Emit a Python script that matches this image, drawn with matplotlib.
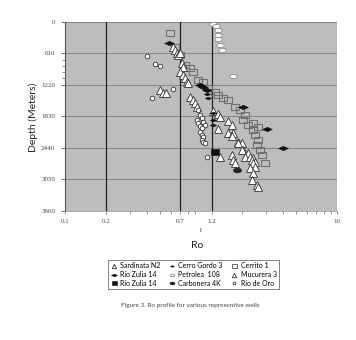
import matplotlib
matplotlib.use("Agg")
import matplotlib.pyplot as plt
import matplotlib.transforms as mtransforms
import numpy as np
from matplotlib.ticker import FixedLocator, LogLocator, NullFormatter

# ---------------- data ----------------
depth_ticks = [0, 610, 1220, 1830, 2440, 3050, 3660]
x_tick_vals = [0.1, 0.2, 0.7, 1.2, 10]
x_tick_labels = ["0.1", "0.2", "0.7", "1.2", "10"]
ro_ref_lines = [0.2, 0.7, 1.2]

sard_ro = [0.626, 0.644, 0.663, 0.681, 0.70, 0.721, 0.741, 0.70, 0.741, 0.763,
           0.785, 0.807, 0.83, 0.878, 0.903, 0.93, 0.50, 0.528, 0.553]
sard_d = [483, 547, 611, 644, 611, 804, 870, 967, 1030, 1094,
          1160, 1191, 1450, 1514, 1577, 1643, 1320, 1372, 1378]

rz_dia_ro = [0.585, 0.983, 1.04, 1.10, 2.05, 3.04, 4.03]
rz_dia_d = [406, 1224, 1268, 1320, 1655, 2074, 2447]

rz_sq_ro = [1.27]
rz_sq_d = [2525]

cg_ro = [1.10, 1.13, 1.23, 1.23, 1.23]
cg_d = [1398, 1481, 1771, 1900, 1997]

petro_ro = [1.22, 1.30, 1.34, 1.34, 1.34, 1.38, 1.42, 1.73]
petro_d = [40, 80, 160, 257, 340, 450, 547, 1050]

carb_ro = [1.83]
carb_d = [2866]

cerr_ro = [0.59, 0.64, 0.70, 0.76, 0.83, 0.88, 0.955, 1.04, 1.13, 1.27, 1.34, 1.46,
           1.59, 1.78, 1.94, 2.11, 2.05, 2.43, 2.23, 2.64, 2.43, 2.49, 2.64, 2.57,
           2.72, 2.79, 2.96]
cerr_d = [224, 483, 644, 837, 901, 967, 1127, 1160, 1287, 1353, 1417, 1481,
          1514, 1643, 1707, 1804, 1900, 1964, 1997, 2030, 2093, 2190, 2287, 2383,
          2480, 2577, 2737]

muc_ro = [1.23, 1.34, 1.38, 1.59, 1.68, 1.34, 1.59, 1.73, 1.68, 1.88, 1.99, 1.88,
          2.05, 1.99, 2.23, 1.68, 2.11, 1.38, 2.29, 2.42, 1.73, 2.36, 2.49, 1.78,
          2.42, 2.49, 2.29, 2.42, 2.36, 2.57, 2.64]
muc_d = [1720, 1784, 1836, 1914, 1997, 2080, 2146, 2157, 2209, 2320, 2351, 2351,
         2480, 2480, 2544, 2577, 2610, 2621, 2610, 2640, 2673, 2673, 2706, 2737,
         2737, 2803, 2834, 2930, 3060, 3157, 3190]

oro_ro = [0.40, 0.46, 0.50, 0.626, 0.436, 0.955, 0.983, 1.01, 1.04, 1.07, 0.93,
          0.955, 0.983, 1.01, 0.983, 1.01, 1.04, 1.01, 1.04, 1.07, 1.10]
oro_d = [657, 823, 856, 1301, 1475, 1707, 1804, 1867, 1933, 1997, 1900,
         1964, 2016, 2061, 2126, 2190, 2223, 2287, 2320, 2351, 2610]

# ---------------- markers ----------------
rect_m = [(-1.6, -1), (1.6, -1), (1.6, 1), (-1.6, 1), (-1.6, -1)]
flat_dia = [(-1, 0), (0, 0.45), (1, 0), (0, -0.45), (-1, 0)]
t = np.linspace(0, 2 * np.pi, 40)
oval_m = list(zip(1.7 * np.cos(t), np.sin(t)))

SANS = ["Lato", "DejaVu Sans"]
SERIF = ["Liberation Serif", "DejaVu Serif"]

fig = plt.figure(figsize=(3.56, 3.40), dpi=100)
fig.patch.set_facecolor("white")
ax = fig.add_axes([65 / 356, 1 - 211 / 340, (337 - 65) / 356, (211 - 21.7) / 340])
ax.set_facecolor("#bdbdbd")
ax.set_xscale("log")
ax.set_xlim(0.1, 10)
ax.set_ylim(3660, 0)

# grid
ax.set_yticks(depth_ticks)
ax.set_yticklabels([str(v) for v in depth_ticks], fontsize=5, family=SERIF, color="#444")
ax.yaxis.set_minor_locator(FixedLocator([732, 854, 976, 1098]))
ax.yaxis.grid(True, which="major", color="#8a8a8a", lw=0.8)
ax.set_axisbelow(True)

ax.set_xticks(x_tick_vals)
ax.set_xticklabels(x_tick_labels, fontsize=5, family=SERIF, color="#444")
ax.xaxis.set_minor_locator(LogLocator(base=10, subs=np.arange(2, 10)))
ax.xaxis.set_minor_formatter(NullFormatter())

ax.tick_params(axis="y", which="major", length=3, width=0.6, color="#555", pad=4)
ax.tick_params(axis="y", which="minor", length=2, width=0.5, color="#555")
ax.tick_params(axis="x", which="major", length=2.5, width=0.5, color="#666", pad=3.5)
ax.tick_params(axis="x", which="minor", length=1.8, width=0.5, color="#666")

for s in ["top", "right"]:
    ax.spines[s].set_visible(False)
ax.spines["left"].set_color("#555")
ax.spines["left"].set_linewidth(0.8)
ax.spines["bottom"].set_color("#999")
ax.spines["bottom"].set_linewidth(0.6)

for v in ro_ref_lines:
    ax.axvline(v, color="#222", lw=0.9, zorder=1.5)

# series
h_sard, = ax.plot(sard_ro, sard_d, ls="none", marker="^", ms=5.3, mfc="white", mec="#333",
                  mew=0.6, label="Sardinata N2", zorder=3)
h_rzd, = ax.plot(rz_dia_ro, rz_dia_d, ls="none", marker=flat_dia, ms=7, mfc="#111", mec="#111",
                 mew=0.4, label="Río Zulia 14", zorder=4)
h_rzs, = ax.plot(rz_sq_ro, rz_sq_d, ls="none", marker=rect_m, ms=6, mfc="#111", mec="#111",
                 mew=0.4, label="Río Zulia 14", zorder=4)
h_cg, = ax.plot(cg_ro, cg_d, ls="none", marker=flat_dia, ms=4.5, mfc="#111", mec="#111",
                mew=0.4, label="Cerro Gordo 3", zorder=4)
h_pet, = ax.plot(petro_ro, petro_d, ls="none", marker=oval_m, ms=5.3, mfc="white", mec="#8a8a8a",
                 mew=0.6, label="Petrolea  108", zorder=3)
h_carb, = ax.plot(carb_ro, carb_d, ls="none", marker=oval_m, ms=6, mfc="#222", mec="#222",
                  mew=0.4, label="Carbonera 4K", zorder=4)
h_cerr, = ax.plot(cerr_ro, cerr_d, ls="none", marker=rect_m, ms=6, mfc="none", mec="#707070",
                  mew=0.8, label="Cerrito 1", zorder=2.5)
h_muc, = ax.plot(muc_ro, muc_d, ls="none", marker="^", ms=5.3, mfc="white", mec="#333",
                 mew=0.6, label="Mucurera 3", zorder=3)
h_oro, = ax.plot(oro_ro, oro_d, ls="none", marker="o", ms=3.3, mfc="white", mec="#333",
                 mew=0.6, label="Rio de Oro", zorder=3)

# extra x label "1"
trans = mtransforms.blended_transform_factory(ax.transData, fig.transFigure)
fig.text(0.98, 1 - 230 / 340, "1", transform=trans, ha="center", va="center",
         fontsize=5, family=SERIF, color="#444")

fig.text(33 / 356, 1 - 117 / 340, "Depth (Meters)", rotation=90, ha="center", va="center",
         fontsize=7.5, family=SANS, color="#222")
fig.text(197 / 356, 1 - 245 / 340, "Ro", ha="center", va="center",
         fontsize=7.5, family=SANS, color="#222")

handles = [h_sard, h_rzd, h_rzs, h_cg, h_pet, h_carb, h_cerr, h_muc, h_oro]
leg = fig.legend(handles=handles, loc="upper left", bbox_to_anchor=(105 / 356, 1 - 256.5 / 340),
                 ncol=3, prop={"family": SANS, "size": 5}, markerscale=0.6,
                 frameon=True, fancybox=False, edgecolor="#222", handlelength=0.8,
                 handletextpad=0.5, columnspacing=1.3, labelspacing=0.25, borderpad=0.35)
leg.get_frame().set_linewidth(0.5)

fig.text(190 / 356, 1 - 305 / 340, "Figure 3. Ro profile for various representive wells",
         ha="center", va="center", fontsize=4.6, family=SANS, color="#444")

fig.savefig("out.png", dpi=100)
